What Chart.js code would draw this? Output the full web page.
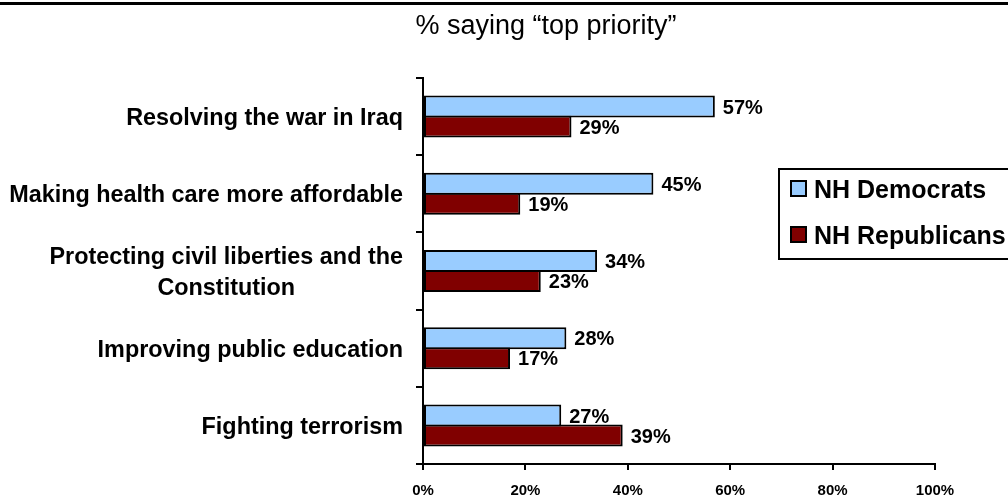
<!DOCTYPE html>
<html>
<head>
  <title>Top priority issues</title>
  <script src="https://cdn.jsdelivr.net/npm/chart.js@4.4.1/dist/chart.umd.min.js"></script>
  <style>
    body { margin: 0; background: #fff; }
    canvas { display: block; }
  </style>
</head>
<body>
  <canvas id="priorities" width="1008" height="497"></canvas>
  <script>
    var issues = [
      ["Resolving the war in Iraq"],
      ["Making health care more affordable"],
      ["Protecting civil liberties and the", "Constitution"],
      ["Improving public education"],
      ["Fighting terrorism"]
    ];
    var democrats = [57, 45, 34, 28, 27];
    var republicans = [29, 19, 23, 17, 39];
    var seriesNames = ["NH Democrats", "NH Republicans"];
    var xMax = 100, xStep = 20;
    var chartTitle = "% saying \u201ctop priority\u201d";

    var FONT = "'Liberation Sans', Arial, sans-serif";

    // title, rule, wrapped category labels, value labels and the boxed legend
    var extras = {
      id: 'extras',
      beforeDraw: function(chart) {
        var ctx = chart.ctx;
        ctx.save();
        ctx.fillStyle = '#fff';
        ctx.fillRect(0, 0, chart.width, chart.height);
        ctx.restore();
      },
      afterDraw: function(chart) {
        var ctx = chart.ctx;
        var area = chart.chartArea;
        ctx.save();
        ctx.fillStyle = '#000';
        ctx.fillRect(0, 2, chart.width, 3);

        ctx.textBaseline = 'alphabetic';
        ctx.textAlign = 'center';
        ctx.font = '27px ' + FONT;
        ctx.fillText(chartTitle, 546, 34);

        // category names: right edge fixed, wrapped lines centred on each other
        var yScale = chart.scales.y;
        ctx.font = 'bold 23.4px ' + FONT;
        issues.forEach(function(lines, i) {
          var cy = yScale.getPixelForValue(i);
          var w = Math.max.apply(null, lines.map(function(l) { return ctx.measureText(l).width; }));
          var cx = area.left - 20 - w / 2;
          var first = cy - (lines.length - 1) * 31 / 2;
          lines.forEach(function(l, j) {
            ctx.fillText(l, cx, first + j * 31 + 8.3);
          });
        });

        // value labels at the end of each bar
        ctx.textAlign = 'left';
        ctx.font = 'bold 20px ' + FONT;
        chart.data.datasets.forEach(function(ds, d) {
          chart.getDatasetMeta(d).data.forEach(function(bar, i) {
            ctx.fillText(ds.data[i] + '%', bar.x + 8, bar.y + 7.2);
          });
        });

        // legend box
        ctx.lineWidth = 2;
        ctx.strokeStyle = '#000';
        ctx.strokeRect(779, 169, 300, 90);
        ctx.font = 'bold 25px ' + FONT;
        var rows = [188.5, 234.5];
        chart.data.datasets.forEach(function(ds, d) {
          ctx.fillStyle = ds.backgroundColor;
          ctx.fillRect(791, rows[d] - 7.5, 15, 15);
          ctx.strokeRect(791, rows[d] - 7.5, 15, 15);
          ctx.fillStyle = '#000';
          ctx.fillText(ds.label, 814, rows[d] + 9);
        });
        ctx.restore();
      }
    };

    new Chart(document.getElementById('priorities'), {
      type: 'bar',
      data: {
        labels: issues,
        datasets: [{
          label: seriesNames[0],
          data: democrats,
          backgroundColor: '#99CCFF'
        }, {
          label: seriesNames[1],
          data: republicans,
          backgroundColor: '#800000'
        }]
      },
      options: {
        indexAxis: 'y',
        responsive: false,
        animation: false,
        layout: { padding: { top: 78, right: 73, left: 0, bottom: 0 } },
        datasets: {
          bar: {
            borderColor: '#000',
            borderWidth: 2,
            borderSkipped: false,
            categoryPercentage: 0.518,
            barPercentage: 1.1
          }
        },
        scales: {
          x: {
            min: 0,
            max: xMax,
            border: { color: '#000', width: 2 },
            grid: { drawOnChartArea: false, color: '#000', lineWidth: 2, tickLength: 6 },
            ticks: {
              stepSize: xStep,
              color: '#000',
              padding: 12,
              font: { family: FONT, size: 15, weight: 'bold' },
              callback: function(v) { return v + '%'; }
            },
            afterFit: function(s) { s.height = 33; }
          },
          y: {
            border: { color: '#000', width: 2 },
            grid: { offset: true, drawOnChartArea: false, color: '#000', lineWidth: 2, tickLength: 7 },
            ticks: { display: false },
            afterFit: function(s) { s.width = 423; }
          }
        },
        plugins: {
          legend: { display: false },
          tooltip: { enabled: false }
        }
      },
      plugins: [extras]
    });
  </script>
</body>
</html>
